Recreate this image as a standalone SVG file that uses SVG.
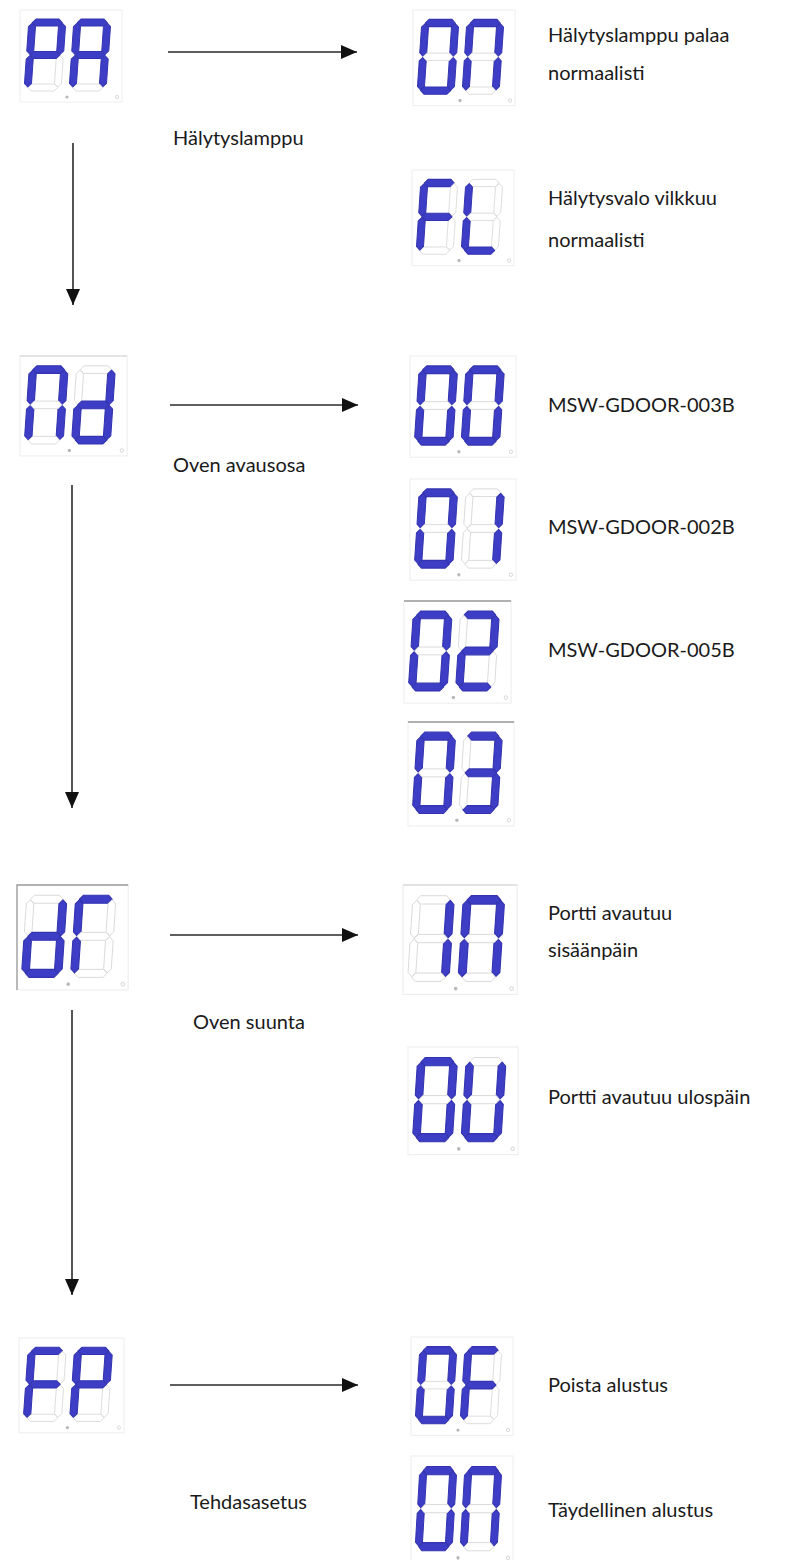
<svg xmlns="http://www.w3.org/2000/svg" xmlns:xlink="http://www.w3.org/1999/xlink" width="806" height="1560" viewBox="0 0 806 1560">
<style>
.on{fill:#3d3dc6;stroke:#3434b0;stroke-width:1;stroke-linejoin:round}
.off{fill:#ffffff;stroke:#d6d6d6;stroke-width:0.8;stroke-linejoin:round}
.panel{fill:#ffffff;stroke:#eeeeee;stroke-width:1}
.edge{stroke:#9a9a9a;stroke-width:1.2;fill:none}
.dp{fill:#b8b8b8}
.dp2{fill:none;stroke:#cfcfcf;stroke-width:0.8}
.lbl{font-family:Lato,"Open Sans","Liberation Sans",sans-serif;font-size:20px;fill:#1a1a1a}
.ln{stroke:#2a2a2a;stroke-width:1.6;fill:none}
</style>
<defs>
<polygon id="sa" points="7,0 30,0 33.5,3.5 30,7 7,7 3.5,3.5"/>
<polygon id="sf" points="0,7.5 3.5,4 7,7.5 7,32 3.5,35.5 0,32"/>
<polygon id="sb" points="30,7.5 33.5,4 37,7.5 37,32 33.5,35.5 30,32"/>
<polygon id="sg" points="7,32.5 30,32.5 33.5,36 30,39.5 7,39.5 3.5,36"/>
<polygon id="se" points="0,40 3.5,36.5 7,40 7,64.5 3.5,68 0,64.5"/>
<polygon id="sc" points="30,40 33.5,36.5 37,40 37,64.5 33.5,68 30,64.5"/>
<polygon id="sd" points="7,65 30,65 33.5,68.5 30,72 7,72 3.5,68.5"/>
<g id="gP"><use href="#sa" class="on"/><use href="#sb" class="on"/><use href="#sc" class="off"/><use href="#sd" class="off"/><use href="#se" class="on"/><use href="#sf" class="on"/><use href="#sg" class="on"/></g>
<g id="gA"><use href="#sa" class="on"/><use href="#sb" class="on"/><use href="#sc" class="on"/><use href="#sd" class="off"/><use href="#se" class="on"/><use href="#sf" class="on"/><use href="#sg" class="on"/></g>
<g id="g0"><use href="#sa" class="on"/><use href="#sb" class="on"/><use href="#sc" class="on"/><use href="#sd" class="on"/><use href="#se" class="on"/><use href="#sf" class="on"/><use href="#sg" class="off"/></g>
<g id="gN"><use href="#sa" class="on"/><use href="#sb" class="on"/><use href="#sc" class="on"/><use href="#sd" class="off"/><use href="#se" class="on"/><use href="#sf" class="on"/><use href="#sg" class="off"/></g>
<g id="gF"><use href="#sa" class="on"/><use href="#sb" class="off"/><use href="#sc" class="off"/><use href="#sd" class="off"/><use href="#se" class="on"/><use href="#sf" class="on"/><use href="#sg" class="on"/></g>
<g id="gL"><use href="#sa" class="off"/><use href="#sb" class="off"/><use href="#sc" class="off"/><use href="#sd" class="on"/><use href="#se" class="on"/><use href="#sf" class="on"/><use href="#sg" class="off"/></g>
<g id="gd"><use href="#sa" class="off"/><use href="#sb" class="on"/><use href="#sc" class="on"/><use href="#sd" class="on"/><use href="#se" class="on"/><use href="#sf" class="off"/><use href="#sg" class="on"/></g>
<g id="gC"><use href="#sa" class="on"/><use href="#sb" class="off"/><use href="#sc" class="off"/><use href="#sd" class="off"/><use href="#se" class="on"/><use href="#sf" class="on"/><use href="#sg" class="off"/></g>
<g id="g1"><use href="#sa" class="off"/><use href="#sb" class="on"/><use href="#sc" class="on"/><use href="#sd" class="off"/><use href="#se" class="off"/><use href="#sf" class="off"/><use href="#sg" class="off"/></g>
<g id="g2"><use href="#sa" class="on"/><use href="#sb" class="on"/><use href="#sc" class="off"/><use href="#sd" class="on"/><use href="#se" class="on"/><use href="#sf" class="off"/><use href="#sg" class="on"/></g>
<g id="g3"><use href="#sa" class="on"/><use href="#sb" class="on"/><use href="#sc" class="on"/><use href="#sd" class="on"/><use href="#se" class="off"/><use href="#sf" class="off"/><use href="#sg" class="on"/></g>
<g id="gU"><use href="#sa" class="off"/><use href="#sb" class="on"/><use href="#sc" class="on"/><use href="#sd" class="on"/><use href="#se" class="on"/><use href="#sf" class="on"/><use href="#sg" class="off"/></g>
<g id="frame"><rect class="panel" x="0" y="0" width="102" height="92"/><circle class="dp" cx="47" cy="87" r="1.6"/><circle class="dp2" cx="97" cy="87" r="1.6"/></g>
<marker id="ah" markerUnits="userSpaceOnUse" markerWidth="18" markerHeight="16" refX="16" refY="7" orient="auto"><path d="M0,0 L16,7 L0,14 Z" fill="#111"/></marker>
</defs>

<g id="connectors">
<line class="ln" x1="168" y1="52" x2="357" y2="52" marker-end="url(#ah)"/>
<line class="ln" x1="73" y1="143" x2="73" y2="305" marker-end="url(#ah)"/>
<line class="ln" x1="170" y1="405" x2="358" y2="405" marker-end="url(#ah)"/>
<line class="ln" x1="72" y1="485" x2="72" y2="808" marker-end="url(#ah)"/>
<line class="ln" x1="170" y1="935" x2="358" y2="935" marker-end="url(#ah)" stroke-width="2.2"/>
<line class="ln" x1="72" y1="1010" x2="72" y2="1295" marker-end="url(#ah)" stroke-width="2.2"/>
<line class="ln" x1="170" y1="1385" x2="358" y2="1385" marker-end="url(#ah)"/>
</g>

<g id="n-PA" transform="translate(20,10)"><use href="#frame"/><use href="#gP" transform="translate(9,9) skewX(-4)"/><use href="#gA" transform="translate(54,9) skewX(-4)"/></g>
<g id="n-Nd" transform="translate(20,356) scale(1.05,1.086)"><use href="#frame"/><line class="edge" x1="0" y1="0" x2="102" y2="0" style="stroke:#dcdcdc"/><use href="#gN" transform="translate(9,9) skewX(-4)"/><use href="#gd" transform="translate(54,9) skewX(-4)"/></g>
<g id="n-dC" transform="translate(17,885) scale(1.09,1.14)"><use href="#frame"/><path class="edge" d="M0,92 V0 H102"/><use href="#gd" transform="translate(9,9) skewX(-4)"/><use href="#gC" transform="translate(54,9) skewX(-4)"/></g>
<g id="n-FP" transform="translate(19,1338) scale(1.03,1.03)"><use href="#frame"/><use href="#gF" transform="translate(9,9) skewX(-4)"/><use href="#gP" transform="translate(54,9) skewX(-4)"/></g>

<g id="n-00a" transform="translate(413,10) scale(1,1.04)"><use href="#frame"/><use href="#g0" transform="translate(9,9) skewX(-4)"/><use href="#gN" transform="translate(54,9) skewX(-4)"/></g>
<g id="n-FL" transform="translate(412,170) scale(1,1.04)"><use href="#frame"/><use href="#gF" transform="translate(9,9) skewX(-4)"/><use href="#gL" transform="translate(54,9) skewX(-4)"/></g>
<g id="n-00b" transform="translate(410,356) scale(1.04,1.1)"><use href="#frame"/><use href="#g0" transform="translate(9,9) skewX(-4)"/><use href="#g0" transform="translate(54,9) skewX(-4)"/></g>
<g id="n-01" transform="translate(410,479) scale(1.04,1.1)"><use href="#frame"/><use href="#g0" transform="translate(9,9) skewX(-4)"/><use href="#g1" transform="translate(54,9) skewX(-4)"/></g>
<g id="n-02" transform="translate(404,601) scale(1.05,1.11)"><use href="#frame"/><line class="edge" x1="0" y1="0" x2="102" y2="0"/><use href="#g0" transform="translate(9,9) skewX(-4)"/><use href="#g2" transform="translate(54,9) skewX(-4)"/></g>
<g id="n-03" transform="translate(408,722) scale(1.04,1.13)"><use href="#frame"/><line class="edge" x1="0" y1="0" x2="102" y2="0"/><use href="#g0" transform="translate(9,9) skewX(-4)"/><use href="#g3" transform="translate(54,9) skewX(-4)"/></g>
<g id="n-10" transform="translate(403,885) scale(1.12,1.19)"><use href="#frame"/><line class="edge" x1="0" y1="0" x2="102" y2="0" style="stroke:#dcdcdc"/><use href="#g1" transform="translate(9,9) skewX(-4)"/><use href="#gN" transform="translate(54,9) skewX(-4)"/></g>
<g id="n-0U" transform="translate(408,1047) scale(1.08,1.17)"><use href="#frame"/><use href="#g0" transform="translate(9,9) skewX(-4)"/><use href="#gU" transform="translate(54,9) skewX(-4)"/></g>
<g id="n-0F" transform="translate(411,1337) scale(1,1.07)"><use href="#frame"/><use href="#g0" transform="translate(9,9) skewX(-4)"/><use href="#gF" transform="translate(54,9) skewX(-4)"/></g>
<g id="n-00c" transform="translate(411,1456) scale(1,1.17)"><use href="#frame"/><use href="#g0" transform="translate(9,9) skewX(-4)"/><use href="#gN" transform="translate(54,9) skewX(-4)"/></g>

<g id="labels">
<text class="lbl" x="548" y="42">Hälytyslamppu palaa</text>
<text class="lbl" x="548" y="80">normaalisti</text>
<text class="lbl" x="173" y="145">Hälytyslamppu</text>
<text class="lbl" x="548" y="205">Hälytysvalo vilkkuu</text>
<text class="lbl" x="548" y="247">normaalisti</text>
<text class="lbl" x="548" y="412">MSW-GDOOR-003B</text>
<text class="lbl" x="173" y="472">Oven avausosa</text>
<text class="lbl" x="548" y="534">MSW-GDOOR-002B</text>
<text class="lbl" x="548" y="657">MSW-GDOOR-005B</text>
<text class="lbl" x="548" y="920">Portti avautuu</text>
<text class="lbl" x="548" y="957">sisäänpäin</text>
<text class="lbl" x="193" y="1029">Oven suunta</text>
<text class="lbl" x="548" y="1104">Portti avautuu ulospäin</text>
<text class="lbl" x="548" y="1392">Poista alustus</text>
<text class="lbl" x="190" y="1509">Tehdasasetus</text>
<text class="lbl" x="548" y="1517">Täydellinen alustus</text>
</g>
</svg>
